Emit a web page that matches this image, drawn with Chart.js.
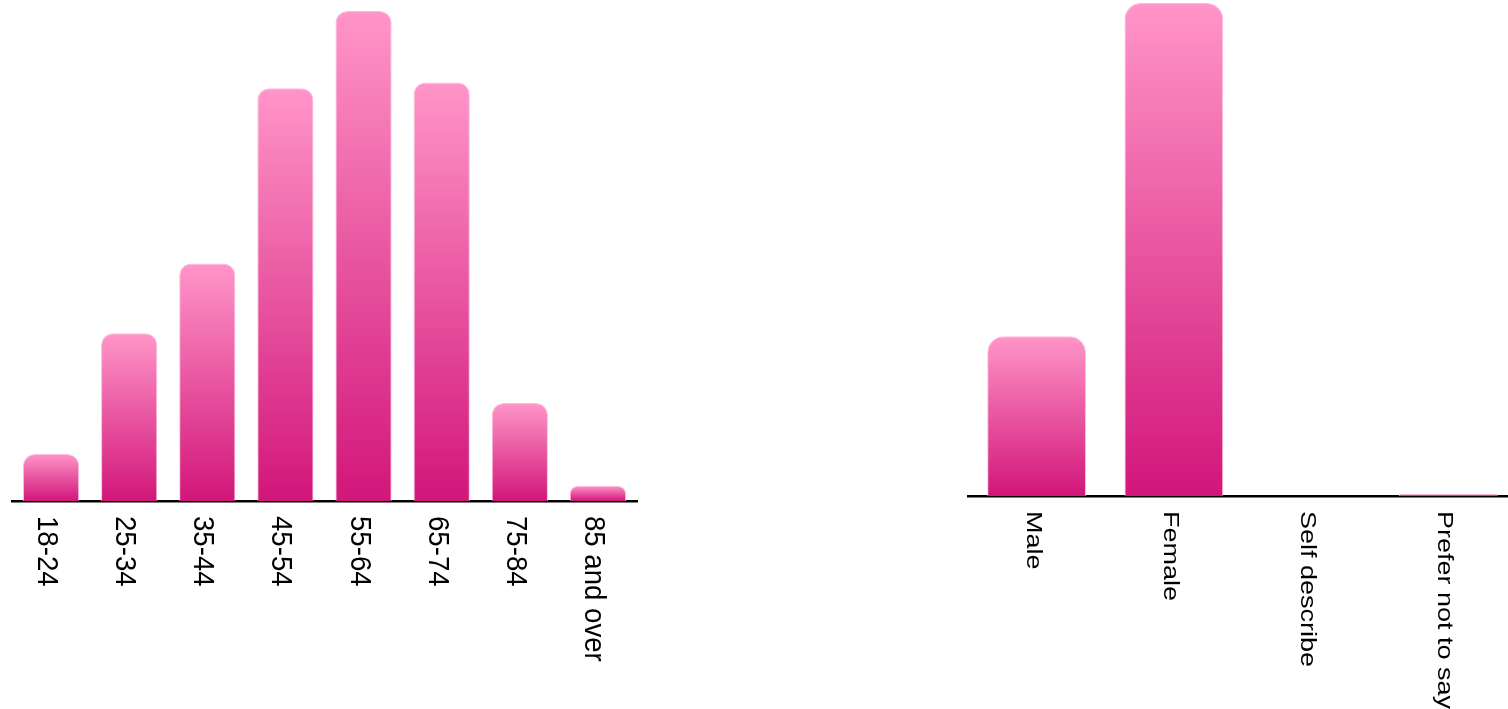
<!DOCTYPE html>
<html>
<head>
<meta charset="utf-8">
<script src="https://cdn.jsdelivr.net/npm/chart.js@4"></script>
<style>
  html, body { margin: 0; padding: 0; background: #ffffff; overflow: hidden; width: 1508px; height: 709px; }
  .wrap { position: absolute; top: 0; }
  #w1 { left: 0; width: 650px; height: 709px; }
  #w2 { left: 940px; width: 580px; height: 709px; }
  canvas { display: block; }
</style>
</head>
<body>
<div class="wrap" id="w1"><canvas id="ageChart" width="650" height="709"></canvas></div>
<div class="wrap" id="w2"><canvas id="genderChart" width="580" height="709"></canvas></div>
<script>
// ---- Data ----
const ageCategories = ["18-24", "25-34", "35-44", "45-54", "55-64", "65-74", "75-84", "85 and over"];
const ageValues = [2.5, 8.9, 12.6, 21.9, 26.0, 22.2, 5.2, 0.8];
const ageAxisMax = 26.58;

const genderCategories = ["Male", "Female", "Self describe", "Prefer not to say"];
const genderValues = [24.4, 75.3, 0, 0.3];
const genderAxisMax = 75.76;

// ---- Styles ----
const TOP_COLOR = '#ff95c8';
const BOTTOM_COLOR = '#d2167a';

function barGradient(context) {
  const chart = context.chart;
  if (!chart.chartArea) return TOP_COLOR;
  const ys = chart.scales.y;
  const v = context.raw;
  const top = ys.getPixelForValue(v);
  const base = ys.getPixelForValue(0);
  if (!isFinite(top) || base - top < 1) return TOP_COLOR;
  const g = chart.ctx.createLinearGradient(0, top, 0, base);
  g.addColorStop(0, TOP_COLOR);
  g.addColorStop(1, BOTTOM_COLOR);
  return g;
}

function rotatedLabels(cfg) {
  return {
    id: 'rotatedLabels',
    afterDraw(chart) {
      const xs = chart.scales.x;
      const c = chart.ctx;
      const labels = chart.data.labels;
      c.save();
      c.fillStyle = '#000000';
      c.font = cfg.font;
      c.textAlign = 'left';
      c.textBaseline = 'alphabetic';
      labels.forEach((lab, i) => {
        const x = xs.getPixelForTick(i) + cfg.dx;
        const y = chart.chartArea.bottom + cfg.dy;
        c.save();
        c.translate(x, y);
        c.rotate(Math.PI / 2);
        c.scale(1, cfg.stretch);
        c.fillText(lab, 0, 0);
        c.restore();
      });
      c.restore();
    }
  };
}

function makeChart(id, labels, values, yMax, pad, xHeight, radius, labelCfg) {
  return new Chart(document.getElementById(id), {
    type: 'bar',
    data: {
      labels: labels,
      datasets: [{
        data: values,
        backgroundColor: barGradient,
        borderColor: 'rgba(255,175,215,0.85)',
        borderWidth: 1,
        borderSkipped: 'bottom',
        borderRadius: { topLeft: radius, topRight: radius, bottomLeft: 0, bottomRight: 0 },
        barPercentage: 0.9,
        categoryPercentage: 0.8
      }]
    },
    options: {
      responsive: false,
      animation: false,
      events: [],
      layout: { padding: pad },
      plugins: { legend: { display: false }, tooltip: { enabled: false } },
      scales: {
        x: {
          grid: { display: false },
          border: { display: true, color: '#000000', width: 2.5 },
          ticks: { display: false },
          afterFit(scale) { scale.height = xHeight; }
        },
        y: {
          display: false,
          min: 0,
          max: yMax
        }
      }
    },
    plugins: [rotatedLabels(labelCfg)]
  });
}

makeChart('ageChart', ageCategories, ageValues, ageAxisMax,
  { left: 12, right: 13, top: 0, bottom: 0 }, 208, 12,
  { dy: 15, dx: -13, stretch: 1.1, font: '27.6px "Liberation Sans", Arial, Helvetica, sans-serif' });

makeChart('genderChart', genderCategories, genderValues, genderAxisMax,
  { left: 28, right: 3, top: 0, bottom: 0 }, 213, 16,
  { dy: 15, dx: -10, stretch: 0.85, font: '27px "Liberation Sans", Arial, Helvetica, sans-serif' });
</script>
</body>
</html>
